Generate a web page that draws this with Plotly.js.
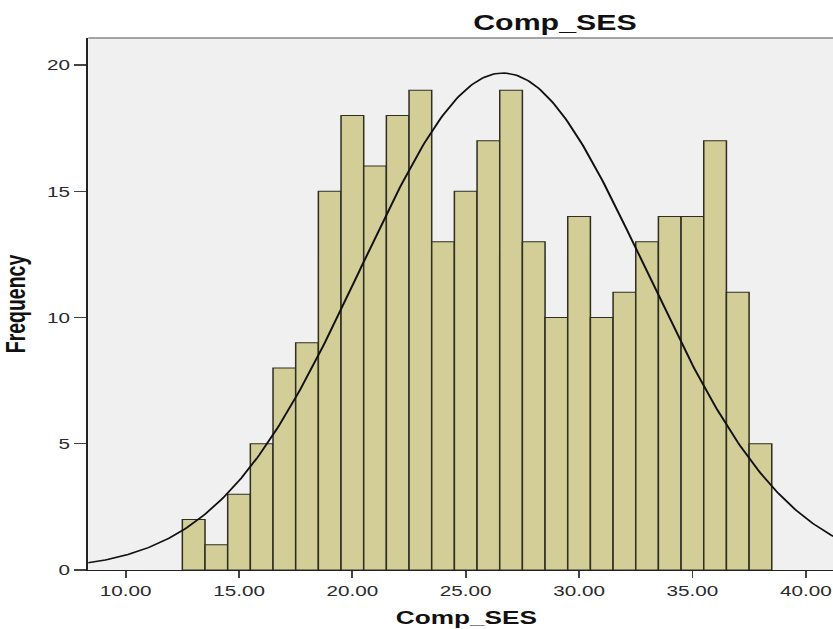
<!DOCTYPE html>
<html>
<head>
<meta charset="utf-8">
<script src="https://cdn.plot.ly/plotly-3.0.1.min.js"></script>
<style>
html,body{margin:0;padding:0;background:#fff;overflow:hidden;}
#wrap{width:833px;height:629px;overflow:hidden;}
/* the reference chart is horizontally stretched, so the plot is drawn narrower and scaled in x */
#chart{width:604px;height:629px;transform:scaleX(1.3791);transform-origin:0 0;}
</style>
</head>
<body>
<div id="wrap"><div id="chart"></div></div>
<script>
// Bin centers (bin width 1) and counts
const binCenters = [13,14,15,16,17,18,19,20,21,22,23,24,25,26,27,28,29,30,31,32,33,34,35,36,37,38];
const counts     = [2, 1, 3, 5, 8, 9, 15,18,16,18,19,13,15,17,19,13,10,14,10,11,13,14,14,17,11,5];
const binWidth = 1;
const xTickVals = [10,15,20,25,30,35,40];
const yTickVals = [0,5,10,15,20];

// Normal curve fitted to the data (mean / sd of the binned values)
const N = counts.reduce((a,b)=>a+b,0);
const mean = binCenters.reduce((s,x,i)=>s+x*counts[i],0)/N;
const variance = binCenters.reduce((s,x,i)=>s+counts[i]*(x-mean)*(x-mean),0)/(N-1);
const sd = Math.sqrt(variance);
const curveX = [], curveY = [];
for (let x = 8.0; x <= 41.5; x += 0.1) {
  curveX.push(x);
  curveY.push(N*binWidth/(sd*Math.sqrt(2*Math.PI))*Math.exp(-(x-mean)*(x-mean)/(2*variance)));
}

const fontMain = 'Liberation Sans, Arial, sans-serif';
const data = [
  {type:'bar', x:binCenters, y:counts, width:binWidth,
   marker:{color:'#d3ce97', line:{color:'#2e2e22', width:1.1}}, hoverinfo:'x+y'},
  {type:'scatter', mode:'lines', x:curveX, y:curveY,
   line:{color:'#111', width:1.5}, hoverinfo:'skip'}
];
const layout = {
  width:604, height:629,
  margin:{l:64, r:0, t:38, b:59},
  paper_bgcolor:'#ffffff', plot_bgcolor:'#f0f0f0',
  showlegend:false, bargap:0,
  title:{text:'<b>Comp_SES</b>', font:{family:fontMain, size:22, color:'#111'},
         xref:'container', x:555/833, xanchor:'center', yref:'container', y:1-22/629, yanchor:'middle'},
  xaxis:{range:[8.35,41.2], tickvals:xTickVals, tickformat:'.2f',
         showgrid:false, zeroline:false, showline:true, linecolor:'#222', linewidth:1.3,
         ticks:'outside', ticklen:7, tickcolor:'#444', tickwidth:1.3,
         tickfont:{family:fontMain, size:15, color:'#2a2a2a'}},
  yaxis:{range:[0,21.07], tickvals:yTickVals,
         showgrid:false, zeroline:false, showline:true, linecolor:'#222', linewidth:1.3,
         ticks:'outside', ticklen:9, tickcolor:'#444', tickwidth:1.2,
         tickfont:{family:fontMain, size:15, color:'#2a2a2a'},
         title:{text:'<b>Frequency</b>', font:{family:fontMain, size:19.5, color:'#111'}, standoff:14}},
  annotations:[{text:'<b>Comp_SES</b>', showarrow:false, xref:'paper', yref:'paper',
                x:(466-88)/745, y:-(617-570)/532, xanchor:'center', yanchor:'middle',
                font:{family:fontMain, size:19, color:'#111'}}],
  shapes:[{type:'line', xref:'paper', yref:'paper', x0:0, x1:1, y0:1, y1:1, line:{color:'#888', width:1.6}}]
};
Plotly.newPlot('chart', data, layout, {displayModeBar:false, staticPlot:true});
</script>
</body>
</html>
